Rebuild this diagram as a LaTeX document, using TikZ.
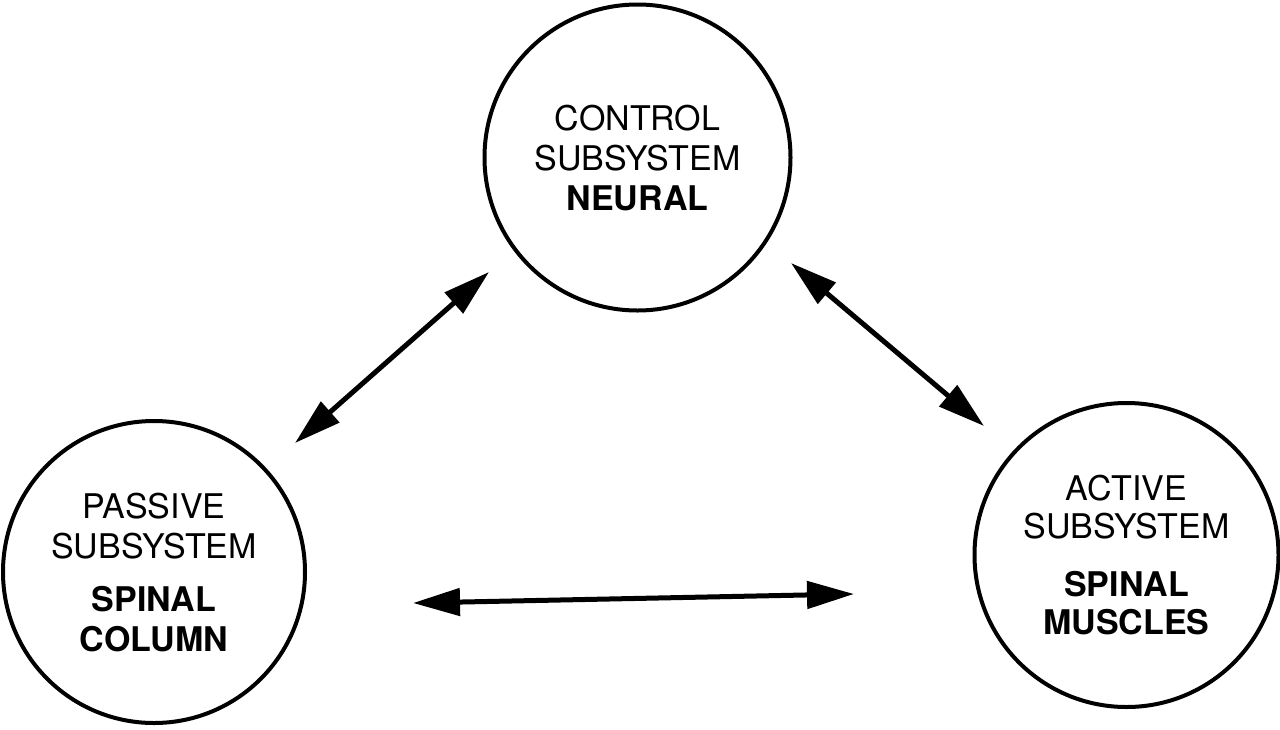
\documentclass[tikz,border=0pt]{standalone}
\usepackage{fontspec}
\setmainfont{TeX Gyre Heros}
\usetikzlibrary{arrows.meta}
\begin{document}
\begin{tikzpicture}[x=1pt,y=-1pt,
  sub/.style={circle,draw,line width=4pt,inner sep=0pt,align=center,
    font=\fontsize{34}{40}\selectfont},
  tipx/.tip={Triangle[length=47pt,width=27pt]},
  arr/.style={line width=5pt,tipx-tipx}]
\useasboundingbox[fill=white] (0,0) rectangle (1280,729);
\node[sub,minimum size=306pt] (control) at (637.5,157.5)
  {CONTROL\\SUBSYSTEM\\\textbf{NEURAL}};
\node[sub,minimum size=302pt] (passive) at (154,572)
  {PASSIVE\\SUBSYSTEM\\[13pt]\textbf{SPINAL}\\\textbf{COLUMN}};
\node[sub,minimum size=304pt,font=\fontsize{34}{38}\selectfont] (active) at (1126.5,555)
  {ACTIVE\\SUBSYSTEM\\[20pt]\textbf{SPINAL}\\\textbf{MUSCLES}};
\coordinate (a1) at (295,443);
\coordinate (a2) at (489,272);
\coordinate (b1) at (791,263);
\coordinate (b2) at (984,426);
\coordinate (c1) at (413,603);
\coordinate (c2) at (854,594);
\draw[arr] (a1) -- (a2);
\draw[arr] (b1) -- (b2);
\draw[arr] (c1) -- (c2);
\end{tikzpicture}
\end{document}
